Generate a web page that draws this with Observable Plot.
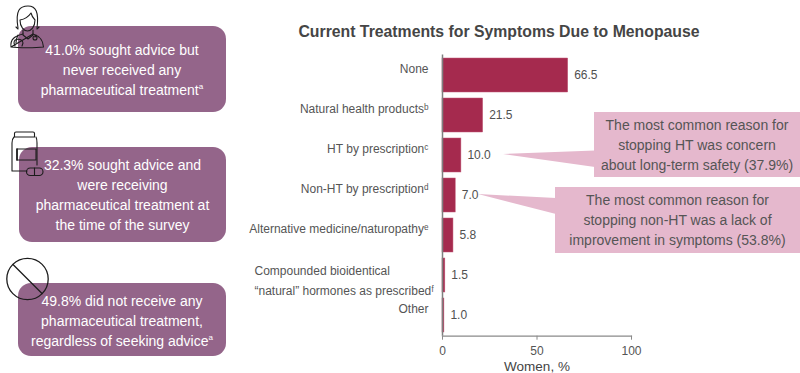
<!DOCTYPE html>
<html>
<head>
<meta charset="utf-8">
<script src="https://cdn.jsdelivr.net/npm/d3@7"></script>
<script src="https://cdn.jsdelivr.net/npm/@observablehq/plot@0.6"></script>
<style>
html,body{margin:0;padding:0;background:#fff;}
#page{position:relative;width:800px;height:373px;overflow:hidden;font-family:"Liberation Sans",Arial,sans-serif;}
#chart,#deco{position:absolute;left:0;top:0;}
.panel{position:absolute;background:#94658A;border-radius:13px;color:#fff;font-size:14px;line-height:20px;text-align:center;box-sizing:border-box;}
.panel sup,.note sup{font-size:8px;line-height:0;}
.note{position:absolute;background:#E5B8CD;color:#555;font-size:14px;line-height:20px;text-align:center;box-sizing:border-box;}
.title{position:absolute;left:199px;width:600px;top:23px;text-align:center;font-weight:bold;font-size:15.8px;line-height:18px;color:#454545;}
</style>
</head>
<body>
<div id="page"></div>
<script>
const categories = ["None","Natural health productsᵇ","HT by prescriptionᶜ","Non-HT by prescriptionᵈ","Alternative medicine/naturopathyᵉ","Compounded bioidentical\n“natural” hormones as prescribedᶠ","Other"];
const values = [66.5,21.5,10.0,7.0,5.8,1.5,1.0];
const xTicks = [0,50,100];
const rows = categories.map((c,i)=>({category:c,value:values[i]}));
const isCompound = d => d.category.includes("\n");

const chart = Plot.plot({
  width:800,height:373,
  marginLeft:442,marginRight:169,marginTop:54.5,marginBottom:37.3,
  style:{background:"transparent",fontFamily:"'Liberation Sans',Arial,sans-serif",fontSize:"12px",color:"#555"},
  x:{domain:[0,100],axis:null},
  y:{domain:categories,paddingInner:0.14,paddingOuter:0.07,axis:null},
  marks:[
    Plot.barX(rows,{x:"value",y:"category",fill:"#A52A4E",stroke:"#C25A78",strokeWidth:0.5}),
    Plot.ruleX([0],{stroke:"#7f7f7f",strokeWidth:1.5}),
    Plot.frame({anchor:"bottom",stroke:"#8a8a8a",strokeWidth:1.2}),
    Plot.axisX({ticks:xTicks,tickSize:4,tickPadding:6,fontSize:12,stroke:"#8a8a8a",fill:"#555",label:null,anchor:"bottom",tickFormat:d=>String(d)}),
    Plot.text(["Women, %"],{frameAnchor:"bottom",x:50,dy:35,lineAnchor:"bottom",fontSize:13.5,fill:"#444"}),
    Plot.text(rows,{x:"value",y:"category",text:d=>d.value.toFixed(1),textAnchor:"start",dx:6,fontSize:12,fill:"#505050"}),
    Plot.text(rows.filter(d=>!isCompound(d)),{x:0,y:"category",text:"category",textAnchor:"end",dx:-14,dy:-6,fontSize:12,fill:"#555"}),
    Plot.text(rows.filter(isCompound),{x:0,y:"category",text:"category",textAnchor:"start",dx:-188,dy:3,lineHeight:1.667,fontSize:12,fill:"#555"})
  ]
});
chart.id="chart";
const page=document.getElementById("page");
page.appendChild(chart);

const title=document.createElement("div");
title.className="title";
title.textContent="Current Treatments for Symptoms Due to Menopause";
page.appendChild(title);

const panels=[
 {l:18,t:26,w:208,h:86,pt:14,html:"41.0% sought advice but<br>never received any<br>pharmaceutical treatment<sup>a</sup>"},
 {l:19,t:147,w:207,h:95,pt:8,html:"32.3% sought advice and<br>were receiving<br>pharmaceutical treatment at<br>the time of the survey"},
 {l:18,t:283,w:208,h:73,pt:8,html:"49.8% did not receive any<br>pharmaceutical treatment,<br>regardless of seeking advice<sup>a</sup>"}
];
for(const p of panels){
  const d=document.createElement("div");
  d.className="panel";
  d.style.cssText=`left:${p.l}px;top:${p.t}px;width:${p.w}px;height:${p.h}px;padding-top:${p.pt}px;`;
  d.innerHTML=p.html;
  page.appendChild(d);
}
const notes=[
 {l:594,t:112,w:206,h:65,pt:3,html:"The most common reason for<br>stopping HT was concern<br>about long-term safety (37.9%)"},
 {l:555,t:187,w:245,h:66,pt:3,html:"The most common reason for<br>stopping non-HT was a lack of<br>improvement in symptoms (53.8%)"}
];
for(const p of notes){
  const d=document.createElement("div");
  d.className="note";
  d.style.cssText=`left:${p.l}px;top:${p.t}px;width:${p.w}px;height:${p.h}px;padding-top:${p.pt}px;`;
  d.innerHTML=p.html;
  page.appendChild(d);
}
const deco=document.createElementNS("http://www.w3.org/2000/svg","svg");
deco.id="deco";
deco.setAttribute("width",800);deco.setAttribute("height",373);
deco.innerHTML=`
<polygon points="503,154 595,150.5 595,167" fill="#E5B8CD"/>
<polygon points="478,194 556,198 556,214" fill="#E5B8CD"/>
<g fill="none" stroke="#1c1c1c" stroke-width="1.1" stroke-linejoin="round" stroke-linecap="round">
  <path d="M18 28 C15 10 20 6 28 6 C36 6 39 12 37 28"/>
  <path d="M20 20 C26 19 29 16 31 13 C32 17 34 19 35 20 C35 27 31 31 27.5 31 C24 31 20 27 20 20Z"/>
  <path d="M23 30 L23 35 L28 39 L33 35 L33 30"/>
  <path d="M11 47 C10 39 15 36 23 34 M33 34 C39 36 43 39 43.500 47 C36 48 18 48 11 47Z"/>
  <path d="M18 35 C16 39 16 41 16 43 M14 43 C14 38 22 38 23 43 L22 46 M14 43 L15 46"/>
  <path d="M36 35 L35 37"/><circle cx="35" cy="38" r="2"/>
  <path d="M16 27 L18 29 M39 27 L37 29"/>
  <path d="M16 132 h17 a1.500 1.500 0 0 1 1.500 1.500 v3.500 h-20 v-3.500 a1.500 1.500 0 0 1 1.500 -1.500Z"/>
  <path d="M14 137 C12 139 12 141 12 143 V171 H27 M36 137 C37 139 37 141 37 143 V165"/>
  <path d="M17 149 H36 V160 H17Z" /><path d="M17 149 V160" stroke-width="1.600"/>
  <rect x="26.500" y="168" width="16.500" height="7.500" rx="3.700"/>
  <path d="M34.500 168 V175.500"/>
  <circle cx="27.500" cy="279" r="20.700" stroke-width="1.300"/>
  <path d="M13 264.500 L42 293.500" stroke-width="1.300"/>
</g>`;
page.appendChild(deco);
</script>
</body>
</html>
